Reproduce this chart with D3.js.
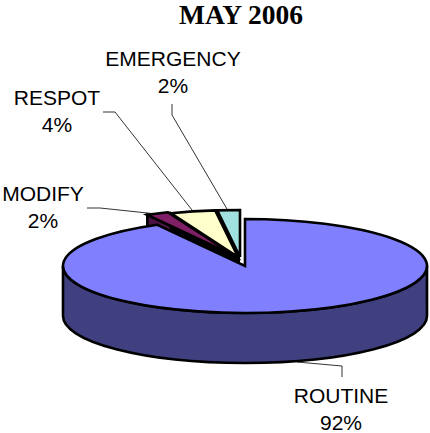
<!DOCTYPE html>
<html>
<head>
<meta charset="utf-8">
<script src="https://cdnjs.cloudflare.com/ajax/libs/d3/7.8.5/d3.min.js"></script>
<style>
  html, body { margin: 0; padding: 0; background: #fff; }
  svg { display: block; }
  .label { font-family: "Liberation Sans", Arial, sans-serif; font-size: 21px; fill: #000; text-anchor: middle; }
  .title { font-family: "Liberation Serif", "Times New Roman", serif; font-size: 27.5px; font-weight: bold; text-anchor: middle; }
</style>
</head>
<body>
<div id="chart"></div>
<script>
// slices in clockwise order starting from 12 o'clock
const categories = ['ROUTINE', 'MODIFY', 'RESPOT', 'EMERGENCY'];
const shares = [92, 2, 4, 2];
const topColors = ['#8080ff', '#7f1f66', '#ffffcc', '#a0e0e0'];
// the cut faces of the two small slices only show as a dark seam
const sideColors = ['#404080', '#4a1240', '#000', '#000'];

const width = 430, height = 433;
const cx = 245, cy = 266, rx = 182, ry = 47, depth = 50;
const stroke = 2.6;

// how far each slice is pulled out of the pie
const explode = {
    ROUTINE: [0, 0],
    MODIFY: [-10, -10],
    RESPOT: [-7, -9],
    EMERGENCY: [-5, -9]
};

// label anchors and leader lines
const labelPos = {
    ROUTINE: {x: 341, y: 403, leader: [[297, 362], [342, 366], [342, 377]]},
    MODIFY: {x: 43, y: 201, leader: [[87, 208], [100, 208], [157, 214]]},
    RESPOT: {x: 57, y: 105, leader: [[103, 112], [115, 112], [192, 210]]},
    EMERGENCY: {x: 173, y: 66, leader: [[172, 104], [172, 115], [227, 209]]}
};

const svg = d3.select('#chart').append('svg')
    .attr('width', width)
    .attr('height', height);

svg.append('text')
    .attr('class', 'title')
    .attr('x', 241)
    .attr('y', 24)
    .text('MAY 2006');

const pie = d3.pie().sort(null).value(d => d.share);
const slices = pie(categories.map((name, i) => ({name, share: shares[i], top: topColors[i], side: sideColors[i]})));

// unit arc, squashed into an ellipse by the transform on each path
const arc = d3.arc().innerRadius(0).outerRadius(100);
const squash = (dx, dy) => `translate(${cx + dx},${cy + dy}) scale(${rx / 100},${ry / 100})`;
const edge = a => [rx * Math.sin(a), -ry * Math.cos(a)];

function wedge(g, d, dx, dy, fill) {
    g.append('path')
        .attr('d', arc(d))
        .attr('transform', squash(dx, dy))
        .attr('fill', fill)
        .attr('stroke', '#000')
        .attr('stroke-width', stroke)
        .attr('stroke-linejoin', 'miter')
        .attr('vector-effect', 'non-scaling-stroke');
}

const routine = slices[0];
const rest = slices.slice(1);

// exploded slices first, the big slice sits in front of them
const backG = svg.append('g');

rest.forEach(d => {
    const [dx, dy] = explode[d.data.name];
    const start = edge(d.startAngle);
    // visible thickness of the slice, below its outer corner
    backG.append('path')
        .attr('d', d3.line()([
            [cx + dx, cy + dy],
            [cx + dx + start[0], cy + dy + start[1]],
            [cx + dx + start[0], cy + dy + start[1] + depth],
            [cx + dx, cy + dy + depth]
        ]))
        .attr('fill', d.data.side)
        .attr('stroke', '#000')
        .attr('stroke-width', stroke);
});

rest.forEach(d => {
    const [dx, dy] = explode[d.data.name];
    wedge(backG, d, dx, dy, d.data.top);
});

// rim of the big slice, front half of the ellipse only
svg.append('path')
    .attr('d', `M${cx - rx},${cy} A${rx},${ry} 0 0 0 ${cx + rx},${cy} L${cx + rx},${cy + depth} A${rx},${ry} 0 0 1 ${cx - rx},${cy + depth} Z`)
    .attr('fill', routine.data.side)
    .attr('stroke', '#000')
    .attr('stroke-width', stroke);

wedge(svg, routine, 0, 0, routine.data.top);

const leaderLine = d3.line();
categories.forEach((name, i) => {
    const p = labelPos[name];
    svg.append('path')
        .attr('d', leaderLine(p.leader))
        .attr('fill', 'none')
        .attr('stroke', '#000')
        .attr('stroke-width', 0.8);
    svg.append('text').attr('class', 'label').attr('x', p.x).attr('y', p.y).text(name);
    svg.append('text').attr('class', 'label').attr('x', p.x).attr('y', p.y + 27).text(shares[i] + '%');
});
</script>
</body>
</html>
